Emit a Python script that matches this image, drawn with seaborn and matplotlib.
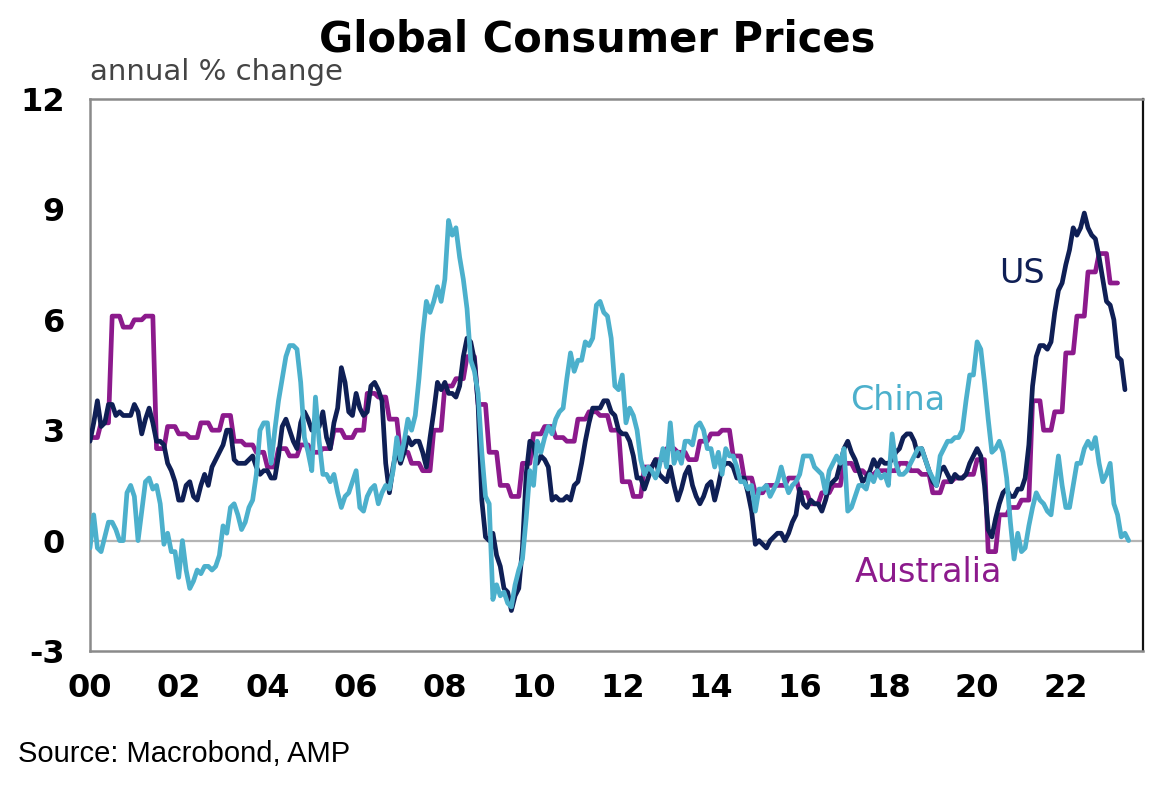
import numpy as np
import pandas as pd
import seaborn as sns
import matplotlib.pyplot as plt

# Monthly annual % change, Jan 2000 onwards

us = [2.7, 3.2, 3.8, 3.1, 3.2, 3.7, 3.7, 3.4, 3.5, 3.4, 3.4, 3.4,
      3.7, 3.5, 2.9, 3.3, 3.6, 3.2, 2.7, 2.7, 2.6, 2.1, 1.9, 1.6,
      1.1, 1.1, 1.5, 1.6, 1.2, 1.1, 1.5, 1.8, 1.5, 2.0, 2.2, 2.4,
      2.6, 3.0, 3.0, 2.2, 2.1, 2.1, 2.1, 2.2, 2.3, 2.0, 1.8, 1.9,
      1.9, 1.7, 1.7, 2.3, 3.1, 3.3, 3.0, 2.7, 2.5, 3.2, 3.5, 3.3,
      3.0, 3.0, 3.1, 3.5, 2.8, 2.5, 3.2, 3.6, 4.7, 4.3, 3.5, 3.4,
      4.0, 3.6, 3.4, 3.5, 4.2, 4.3, 4.1, 3.8, 2.1, 1.3, 2.0, 2.5,
      2.1, 2.4, 2.8, 2.6, 2.7, 2.7, 2.4, 2.0, 2.8, 3.5, 4.3, 4.1,
      4.3, 4.0, 4.0, 3.9, 4.2, 5.0, 5.5, 5.4, 4.9, 3.7, 1.1, 0.1,
      0.0, 0.2, -0.4, -0.7, -1.3, -1.4, -1.9, -1.5, -1.3, -0.2, 1.8, 2.7,
      2.6, 2.1, 2.3, 2.2, 2.0, 1.1, 1.2, 1.1, 1.1, 1.2, 1.1, 1.5,
      1.6, 2.1, 2.7, 3.2, 3.6, 3.6, 3.6, 3.8, 3.8, 3.5, 3.4, 3.0,
      2.9, 2.9, 2.7, 2.3, 1.7, 1.7, 1.4, 1.7, 2.0, 2.2, 1.8, 1.7,
      1.6, 2.0, 1.5, 1.1, 1.4, 1.8, 2.0, 1.5, 1.2, 1.0, 1.2, 1.5,
      1.6, 1.1, 1.5, 2.0, 2.1, 2.1, 2.0, 1.7, 1.7, 1.7, 1.3, 0.8,
      -0.1, 0.0, -0.1, -0.2, 0.0, 0.1, 0.2, 0.2, 0.0, 0.2, 0.5, 0.7,
      1.4, 1.0, 0.9, 1.1, 1.0, 1.0, 0.8, 1.1, 1.5, 1.6, 1.7, 2.1,
      2.5, 2.7, 2.4, 2.2, 1.9, 1.6, 1.7, 1.9, 2.2, 2.0, 2.2, 2.1,
      2.1, 2.2, 2.4, 2.5, 2.8, 2.9, 2.9, 2.7, 2.3, 2.5, 2.2, 1.9,
      1.6, 1.5, 1.9, 2.0, 1.8, 1.6, 1.8, 1.7, 1.7, 1.8, 2.1, 2.3,
      2.5, 2.3, 1.5, 0.3, 0.1, 0.6, 1.0, 1.3, 1.4, 1.2, 1.2, 1.4,
      1.4, 1.7, 2.6, 4.2, 5.0, 5.3, 5.3, 5.2, 5.4, 6.2, 6.8, 7.0,
      7.5, 7.9, 8.5, 8.3, 8.5, 8.9, 8.5, 8.3, 8.2, 7.7, 7.1, 6.5,
      6.4, 6.0, 5.0, 4.9, 4.1]

china = [-0.2, 0.7, -0.2, -0.3, 0.1, 0.5, 0.5, 0.3, 0.0, 0.0, 1.3, 1.5,
         1.2, 0.0, 0.8, 1.6, 1.7, 1.4, 1.5, 1.0, -0.1, 0.2, -0.3, -0.3,
         -1.0, 0.0, -0.8, -1.3, -1.1, -0.8, -0.9, -0.7, -0.7, -0.8, -0.7, -0.4,
         0.4, 0.2, 0.9, 1.0, 0.7, 0.3, 0.5, 0.9, 1.1, 1.8, 3.0, 3.2,
         3.2, 2.1, 3.0, 3.8, 4.4, 5.0, 5.3, 5.3, 5.2, 4.3, 2.8, 2.4,
         1.9, 3.9, 2.7, 1.8, 1.8, 1.6, 1.8, 1.3, 0.9, 1.2, 1.3, 1.6,
         1.9, 0.9, 0.8, 1.2, 1.4, 1.5, 1.0, 1.3, 1.5, 1.4, 1.9, 2.8,
         2.2, 2.7, 3.3, 3.0, 3.4, 4.4, 5.6, 6.5, 6.2, 6.5, 6.9, 6.5,
         7.1, 8.7, 8.3, 8.5, 7.7, 7.1, 6.3, 4.9, 4.6, 4.0, 2.4, 1.2,
         1.0, -1.6, -1.2, -1.5, -1.4, -1.7, -1.8, -1.2, -0.8, -0.5, 0.6, 1.9,
         1.5, 2.7, 2.4, 2.8, 3.1, 2.9, 3.3, 3.5, 3.6, 4.4, 5.1, 4.6,
         4.9, 4.9, 5.4, 5.3, 5.5, 6.4, 6.5, 6.2, 6.1, 5.5, 4.2, 4.1,
         4.5, 3.2, 3.6, 3.4, 3.0, 2.2, 1.8, 2.0, 1.9, 1.7, 2.0, 2.5,
         2.0, 3.2, 2.1, 2.4, 2.1, 2.7, 2.7, 2.6, 3.1, 3.2, 3.0, 2.5,
         2.5, 2.0, 2.4, 1.8, 2.5, 2.3, 2.3, 2.0, 1.6, 1.6, 1.4, 1.5,
         0.8, 1.4, 1.4, 1.5, 1.2, 1.4, 1.6, 2.0, 1.6, 1.3, 1.5, 1.6,
         1.8, 2.3, 2.3, 2.3, 2.0, 1.9, 1.8, 1.3, 1.9, 2.1, 2.3, 2.1,
         2.5, 0.8, 0.9, 1.2, 1.5, 1.5, 1.4, 1.8, 1.6, 1.9, 1.7, 1.8,
         1.5, 2.9, 2.1, 1.8, 1.8, 1.9, 2.1, 2.3, 2.5, 2.5, 2.2, 1.9,
         1.7, 1.5, 2.3, 2.5, 2.7, 2.7, 2.8, 2.8, 3.0, 3.8, 4.5, 4.5,
         5.4, 5.2, 4.3, 3.3, 2.4, 2.5, 2.7, 2.4, 1.7, 0.5, -0.5, 0.2,
         -0.3, -0.2, 0.4, 0.9, 1.3, 1.1, 1.0, 0.8, 0.7, 1.5, 2.3, 1.5,
         0.9, 0.9, 1.5, 2.1, 2.1, 2.5, 2.7, 2.5, 2.8, 2.1, 1.6, 1.8,
         2.1, 1.0, 0.7, 0.1, 0.2, 0.0]

# Australia is quarterly, Q1 2000 onwards
australia_q = [2.8, 3.2, 6.1, 5.8,
               6.0, 6.1, 2.5, 3.1,
               2.9, 2.8, 3.2, 3.0,
               3.4, 2.7, 2.6, 2.4,
               2.0, 2.5, 2.3, 2.6,
               2.4, 2.5, 3.0, 2.8,
               3.0, 4.0, 3.9, 3.3,
               2.4, 2.1, 1.9, 3.0,
               4.2, 4.4, 5.0, 3.7,
               2.4, 1.5, 1.2, 2.1,
               2.9, 3.1, 2.8, 2.7,
               3.3, 3.5, 3.4, 3.0,
               1.6, 1.2, 2.0, 2.2,
               2.5, 2.4, 2.2, 2.7,
               2.9, 3.0, 2.3, 1.7,
               1.3, 1.5, 1.5, 1.7,
               1.3, 1.0, 1.3, 1.5,
               2.1, 1.9, 1.8, 1.9,
               1.9, 2.1, 1.9, 1.8,
               1.3, 1.6, 1.7, 1.8,
               2.2, -0.3, 0.7, 0.9,
               1.1, 3.8, 3.0, 3.5,
               5.1, 6.1, 7.3, 7.8,
               7.0]

year_ticks = list(range(2000, 2023, 2))
year_labels = ['00', '02', '04', '06', '08', '10', '12', '14', '16', '18', '20', '22']
y_ticks = [-3, 0, 3, 6, 9, 12]

colors = {'US': '#0f1f55', 'Australia': '#8c1a8c', 'China': '#4cb0cc'}

# Build long table (Australia quarter value held for each month of the quarter)
australia = np.repeat(australia_q, 3)
frames = []
for name, vals in [('Australia', australia), ('US', us), ('China', china)]:
    frames.append(pd.DataFrame({'date': 2000 + np.arange(len(vals)) / 12,
                                'value': vals, 'country': name}))
df = pd.concat(frames, ignore_index=True)

sns.set_style('white')
plt.rcParams['font.family'] = ['DejaVu Sans']
plt.rcParams['axes.unicode_minus'] = False

fig = plt.figure(figsize=(11.74, 7.88), dpi=100)
ax = fig.add_axes([90 / 1174, 1 - 651 / 788, 1053 / 1174, 552 / 788])

ax.axhline(0, color='#b4b4b4', lw=1.6, zorder=1)
sns.lineplot(data=df, x='date', y='value', hue='country', palette=colors,
             hue_order=['Australia', 'US', 'China'], linewidth=3.4, legend=False,
             ax=ax, zorder=3)

ax.set_xlim(2000, 2023.74)
ax.set_ylim(-3, 12)
ax.set_xticks(year_ticks)
ax.set_xticklabels(year_labels)
ax.set_yticks(y_ticks)
ax.set_xlabel('')
ax.set_ylabel('')

ax.tick_params(axis='x', direction='in', length=6, width=1.5, color='#8a8a8a',
               pad=16, labelsize=23, labelcolor='black')
ax.tick_params(axis='y', direction='out', length=8, width=1.5, color='#8a8a8a',
               pad=10, labelsize=23, labelcolor='black')
for lab in ax.get_xticklabels() + ax.get_yticklabels():
    lab.set_fontweight('bold')

for side in ['left', 'bottom', 'top']:
    ax.spines[side].set_color('#8a8a8a')
    ax.spines[side].set_linewidth(1.8)
ax.spines['right'].set_color('#111111')
ax.spines['right'].set_linewidth(1.6)

# Series labels
ax.text(2021.0, 7.25, 'US', color=colors['US'], fontsize=24, ha='center', va='center')
ax.text(2018.2, 3.8, 'China', color=colors['China'], fontsize=24, ha='center', va='center')
ax.text(2018.9, -0.87, 'Australia', color=colors['Australia'], fontsize=24,
        ha='center', va='center')

fig.text(0.509, 1 - 39 / 788, 'Global Consumer Prices', fontsize=30, fontweight='heavy',
         color='black', ha='center', va='center')
fig.text(90 / 1174, 1 - 72 / 788, 'annual % change', fontsize=21, color='#444444',
         ha='left', va='center')
fig.text(18 / 1174, 1 - 754 / 788, 'Source: Macrobond, AMP', fontsize=21, color='black',
         family='Liberation Sans', ha='left', va='center')

fig.savefig('out.png', dpi=100)
